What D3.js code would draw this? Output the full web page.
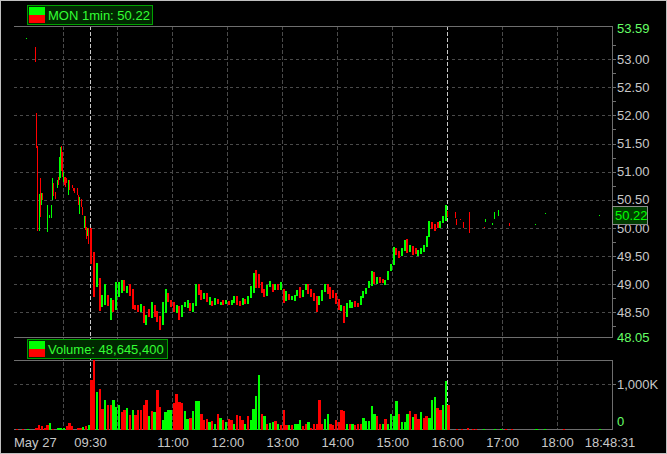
<!DOCTYPE html>
<html><head><meta charset="utf-8">
<script src="https://cdn.jsdelivr.net/npm/d3@7"></script>
<style>
html,body{margin:0;padding:0;background:#000;}
svg{display:block;font-family:"Liberation Sans",Arial,sans-serif;}
</style></head><body>
<svg id="chart" width="667" height="454"></svg>
<script>
// ---------------- DATA ----------------
const symbol = "MON 1min";
const lastPrice = 50.22;
const volumeTotal = 48645400;
const dateLabel = "May 27";
const lastTimeLabel = "18:48:31";
const dayStart = "08:07", dayEnd = "19:00";
const priceMin = 48.05, priceMax = 53.59;
const priceTicks = [48.5, 49, 49.5, 50, 50.5, 51, 51.5, 52, 52.5, 53];
const hourGrid = ["09:00","10:00","11:00","12:00","13:00","14:00","15:00","16:00","17:00","18:00"];
const hourLabels = ["09:30","11:00","12:00","13:00","14:00","15:00","16:00","17:00","18:00"];
const sessionMarks = ["09:30","16:00"];
const volMax = 1530, volTicks = [1000];

// pre-market 1-min bars [time, open, high, low, close]
const preBars = [
 ["08:20",53.35,53.37,53.35,53.37],["08:30",53.22,53.22,52.95,52.95],["08:31",52.05,52.05,51.42,51.45],
 ["08:32",51.45,51.45,49.93,49.97],["08:34",49.96,50.61,49.95,50.58],["08:35",50.85,50.88,50.19,50.25],
 ["08:37",50.40,50.62,50.40,50.60],["08:38",50.61,50.62,50.49,50.49],["08:43",49.93,50.40,49.92,50.38],
 ["08:45",50.16,50.22,50.16,50.22],["08:47",50.16,50.40,50.16,50.40],["08:48",50.49,50.64,50.49,50.64],
 ["08:49",50.52,50.88,50.52,50.88],["08:50",50.79,50.79,50.55,50.55],["08:52",50.64,50.64,50.52,50.52],
 ["08:54",50.70,50.85,50.70,50.85],["08:55",50.91,50.91,50.76,50.76],["08:56",50.85,51.26,50.85,51.26],
 ["08:57",50.88,51.44,50.88,51.40],["08:58",51.45,51.45,51.00,51.00],["08:59",51.35,51.35,50.91,50.91],
 ["09:00",50.82,51.00,50.82,51.00],["09:02",50.91,50.91,50.76,50.76],["09:03",50.91,50.91,50.73,50.73],
 ["09:04",50.88,50.88,50.79,50.79],["09:06",50.58,50.85,50.58,50.85],["09:07",50.85,50.85,50.67,50.67],
 ["09:10",50.76,50.76,50.70,50.70],["09:11",50.70,50.70,50.64,50.64],["09:12",50.70,50.70,50.61,50.61],
 ["09:16",50.70,50.70,50.58,50.58],["09:17",50.58,50.58,50.40,50.40],["09:18",50.25,50.55,50.25,50.55],
 ["09:20",50.52,50.52,50.37,50.37],["09:21",50.37,50.37,50.22,50.22],["09:23",49.99,50.21,49.99,50.21],
 ["09:24",50.21,50.21,49.99,49.99],["09:25",50.10,50.10,49.96,49.96],["09:26",50.02,50.02,49.81,49.81],
 ["09:27",49.84,49.99,49.84,49.99],["09:28",49.99,49.99,49.70,49.70]
];

// regular session, 3-min bars from 09:30 [time, open, high, low, close]
const sessionBars = [
 ["09:30",49.95,49.99,49.35,49.40],["09:33",49.45,49.57,48.77,48.95],["09:36",48.98,49.37,48.95,49.30],
 ["09:39",49.07,49.10,48.51,48.60],["09:42",48.62,48.80,48.58,48.77],["09:45",48.65,49.00,48.62,48.98],
 ["09:48",48.77,48.80,48.60,48.60],["09:51",48.38,48.75,48.36,48.72],["09:54",48.71,48.72,48.51,48.51],
 ["09:57",48.57,49.04,48.55,49.00],["10:00",48.80,49.04,48.78,49.04],["10:03",48.84,49.07,48.83,49.05],
 ["10:06",49.07,49.08,48.88,48.90],["10:09",48.83,48.96,48.83,48.95],["10:12",49.00,49.01,48.80,48.80],
 ["10:15",48.90,48.91,48.56,48.60],["10:18",48.62,48.63,48.54,48.54],["10:21",48.62,48.63,48.51,48.51],
 ["10:24",48.51,48.65,48.50,48.65],["10:27",48.60,48.61,48.30,48.30],["10:30",48.30,48.45,48.27,48.45],
 ["10:33",48.54,48.55,48.40,48.40],["10:36",48.40,48.68,48.39,48.68],["10:39",48.62,48.63,48.42,48.42],
 ["10:42",48.51,48.52,48.33,48.33],["10:45",48.42,48.43,48.18,48.20],["10:48",48.27,48.68,48.27,48.68],
 ["10:51",48.51,48.92,48.50,48.92],["10:54",48.83,48.84,48.68,48.68],["10:57",48.71,48.72,48.60,48.60],
 ["11:00",48.68,48.69,48.51,48.51],["11:03",48.48,48.62,48.47,48.62],["11:06",48.60,48.61,48.36,48.36],
 ["11:09",48.42,48.62,48.41,48.62],["11:12",48.60,48.68,48.59,48.68],["11:15",48.57,48.71,48.56,48.71],
 ["11:18",48.65,48.66,48.51,48.55],["11:21",48.51,48.66,48.50,48.62],["11:24",48.62,49.00,48.61,48.97],
 ["11:27",48.99,49.00,48.80,48.84],["11:30",48.87,48.90,48.72,48.76],["11:33",48.74,48.84,48.73,48.83],
 ["11:36",48.83,48.84,48.68,48.70],["11:39",48.65,48.77,48.63,48.76],["11:42",48.69,48.70,48.61,48.62],
 ["11:45",48.63,48.75,48.62,48.74],["11:48",48.72,48.73,48.64,48.65],["11:51",48.64,48.69,48.63,48.68],
 ["11:54",48.71,48.72,48.63,48.64],["11:57",48.64,48.71,48.63,48.70],["12:00",48.69,48.70,48.63,48.64],
 ["12:03",48.64,48.72,48.63,48.71],["12:06",48.67,48.78,48.66,48.77],["12:09",48.78,48.79,48.63,48.64],
 ["12:12",48.69,48.70,48.61,48.62],["12:15",48.63,48.75,48.62,48.74],["12:18",48.72,48.73,48.64,48.65],
 ["12:21",48.66,48.79,48.64,48.78],["12:24",48.75,48.96,48.74,48.95],["12:27",48.85,49.20,48.84,49.18],
 ["12:30",49.24,49.25,48.93,48.95],["12:33",49.17,49.18,48.93,48.95],["12:36",49.02,49.03,48.84,48.86],
 ["12:39",48.90,48.91,48.76,48.77],["12:42",48.80,48.99,48.79,48.98],["12:45",48.96,49.06,48.95,49.05],
 ["12:48",49.00,49.01,48.87,48.88],["12:51",48.90,49.00,48.89,48.99],["12:54",48.99,49.00,48.90,48.91],
 ["12:57",48.90,49.03,48.89,49.02],["13:00",48.90,48.91,48.66,48.68],["13:03",48.72,48.88,48.71,48.87],
 ["13:06",48.81,48.82,48.71,48.72],["13:09",48.72,48.78,48.71,48.78],["13:12",48.72,48.81,48.71,48.81],
 ["13:15",48.81,48.90,48.80,48.90],["13:18",48.93,48.94,48.75,48.76],["13:21",48.78,48.90,48.77,48.90],
 ["13:24",48.90,49.00,48.89,49.00],["13:27",48.99,49.00,48.83,48.84],["13:30",48.90,48.91,48.77,48.78],
 ["13:33",48.84,48.85,48.71,48.72],["13:36",48.78,48.79,48.51,48.53],["13:39",48.63,48.78,48.62,48.78],
 ["13:42",48.72,48.90,48.71,48.90],["13:45",48.87,49.00,48.86,48.99],["13:48",49.00,49.01,48.83,48.84],
 ["13:51",48.93,48.94,48.72,48.73],["13:54",48.88,48.89,48.74,48.75],["13:57",48.84,48.85,48.66,48.67],
 ["14:00",48.72,48.73,48.54,48.55],["14:03",48.54,48.63,48.53,48.63],["14:06",48.60,48.61,48.30,48.42],
 ["14:09",48.42,48.66,48.41,48.66],["14:12",48.58,48.72,48.57,48.72],["14:15",48.60,48.69,48.59,48.69],
 ["14:18",48.69,48.70,48.60,48.61],["14:21",48.66,48.67,48.60,48.61],["14:24",48.63,48.78,48.62,48.78],
 ["14:27",48.75,48.87,48.74,48.87],["14:30",48.84,48.93,48.83,48.93],["14:33",48.93,49.05,48.92,49.05],
 ["14:36",48.99,49.24,48.98,49.22],["14:39",49.20,49.21,48.99,49.00],["14:42",49.00,49.12,48.99,49.12],
 ["14:45",49.11,49.12,49.02,49.02],["14:48",49.08,49.09,49.02,49.02],["14:51",49.00,49.08,48.99,49.08],
 ["14:54",49.08,49.23,49.07,49.23],["14:57",49.23,49.35,49.22,49.35],["15:00",49.35,49.66,49.34,49.66],
 ["15:03",49.64,49.65,49.52,49.52],["15:06",49.58,49.59,49.46,49.46],["15:09",49.50,49.64,49.49,49.64],
 ["15:12",49.61,49.79,49.60,49.79],["15:15",49.79,49.80,49.55,49.55],["15:18",49.58,49.70,49.57,49.70],
 ["15:21",49.67,49.68,49.52,49.52],["15:24",49.64,49.65,49.55,49.55],["15:27",49.52,49.61,49.51,49.61],
 ["15:30",49.55,49.64,49.54,49.64],["15:33",49.58,49.70,49.57,49.70],["15:36",49.67,49.85,49.66,49.85],
 ["15:39",49.85,50.12,49.84,50.12],["15:42",50.09,50.10,49.97,49.97],["15:45",50.06,50.07,49.94,49.94],
 ["15:48",50.09,50.10,50.00,50.00],["15:51",50.00,50.12,49.99,50.12],["15:54",50.09,50.21,50.08,50.21],
 ["15:57",50.12,50.40,50.11,50.38]
];

// after-hours 1-min bars [time, open, high, low, close]
const postBars = [
 ["16:00",50.29,50.30,50.20,50.20],["16:09",50.29,50.29,50.19,50.19],["16:10",50.15,50.15,50.05,50.05],
 ["16:14",50.16,50.16,50.15,50.15],["16:17",50.11,50.11,50.00,50.00],["16:24",50.29,50.29,49.92,49.92],
 ["16:40",50.01,50.01,49.99,49.99],["16:41",50.10,50.16,50.10,50.16],["16:49",50.05,50.09,50.05,50.09],
 ["16:51",50.15,50.28,50.15,50.28],["16:55",50.21,50.32,50.21,50.32],["17:08",50.09,50.09,50.03,50.03],
 ["17:36",50.05,50.06,50.05,50.06],["17:47",50.25,50.26,50.25,50.26],["18:46",50.22,50.23,50.22,50.23]
];

// volume (thousands of shares), 3-min bars
const volPreTimes = ["08:09","08:15","08:21","08:30","08:33","08:36","08:39","08:42","08:45","08:48","08:54","08:57","09:00","09:03","09:06","09:09","09:15","09:18","09:21","09:24","09:27"];
const volPre      = [15,20,5,30,90,67,30,110,133,20,30,30,30,67,133,67,30,30,52,67,90];
const volPreDir   = "RRGRRRRRGRGGGRRRRRGRG";
const volSession = [
 1090,1600,830,900,460,660,530,530,640,500,530,380,420,480,330,420,330,420,420,530,
 640,290,410,380,880,500,200,390,440,440,590,790,610,580,410,240,260,410,620,620,
 333,200,237,163,185,126,348,259,200,163,237,200,111,311,289,200,111,289,200,445,
 733,1200,333,304,126,141,156,178,126,104,422,89,89,89,126,126,200,67,126,156,
 37,111,111,645,111,222,333,111,89,200,156,422,400,126,111,126,89,111,126,244,
 178,178,526,348,289,111,111,237,126,348,304,622,333,163,163,348,400,274,333,222,
 378,259,296,252,645,719,482,437,534,1067,534
];
const volSessionDir = "RRGRRGRRGGGRRGRGRRRRRGRGRRGGGGRRRRGGRGGGRRRGRGRGRGRRGRRRGRGGGGRGRGGRGRRRGRGGGRRGRRRRRGGRRRRRRGRGRRRGGGGGRRGRGGGGRGGGRGRRGRRGGGRRGGR";
const volPostTimes = ["16:09","16:15","16:21","16:27","16:30","16:39","16:51","16:57","17:03","17:09","17:36","17:45","18:06","18:45"];
const volPost      = [22,22,30,22,22,22,22,22,22,22,22,22,22,22];
const volPostDir   = "RRRRRGGGRRGGRG";

// ---------------- DRAW ----------------
const UP = "#00ff00", DN = "#ff0000";
const tmin = s => { const p = s.split(":").map(Number); return p[0]*60 + p[1] + (p[2]||0)/60; };
const plotL = 14, plotR = 612;
const priceTop = 26, priceBot = 337.5, volTop = 360, volBot = 429.5;

const svg = d3.select("#chart");
svg.append("rect").attr("width",667).attr("height",454).attr("fill","#000");

const x = d3.scaleLinear().domain([tmin(dayStart), tmin(dayEnd)]).range([plotL, plotR]);
const y = d3.scaleLinear().domain([priceMin, priceMax]).range([priceBot, priceTop]);
const v = d3.scaleLinear().domain([0, volMax]).range([volBot, volTop]);

const grid = svg.append("g").attr("shape-rendering","crispEdges");
grid.selectAll("line.hp").data(priceTicks).join("line")
  .attr("x1",plotL).attr("x2",plotR).attr("y1",d=>Math.round(y(d))+0.5).attr("y2",d=>Math.round(y(d))+0.5)
  .attr("stroke","#4a4a4a").attr("stroke-dasharray","3,3");
grid.selectAll("line.hv").data(volTicks).join("line")
  .attr("x1",plotL).attr("x2",plotR).attr("y1",d=>Math.round(v(d))+0.5).attr("y2",d=>Math.round(v(d))+0.5)
  .attr("stroke","#4a4a4a").attr("stroke-dasharray","3,3");
grid.selectAll("line.vg").data(hourGrid.filter(h=>!sessionMarks.includes(h))).join("line")
  .attr("x1",d=>Math.round(x(tmin(d)))+0.5).attr("x2",d=>Math.round(x(tmin(d)))+0.5)
  .attr("y1",priceTop).attr("y2",volBot)
  .attr("stroke","#4a4a4a").attr("stroke-dasharray","4,2");
grid.selectAll("line.sm").data(sessionMarks).join("line")
  .attr("x1",d=>Math.round(x(tmin(d)))+0.5).attr("x2",d=>Math.round(x(tmin(d)))+0.5)
  .attr("y1",priceTop).attr("y2",volBot)
  .attr("stroke","#c8c8c8").attr("stroke-dasharray","4,2");
[priceTop, priceBot, volTop, volBot].forEach(yy=>{
  grid.append("line").attr("x1",plotL).attr("x2",plotR).attr("y1",Math.floor(yy)+0.5).attr("y2",Math.floor(yy)+0.5).attr("stroke","#6e6e6e");
});

// candles
const bars = svg.append("g").attr("shape-rendering","crispEdges");
function drawCandles(data, w, off){
  bars.selectAll(null).data(data).join("rect")
    .attr("x", d => Math.round(x(tmin(d[0])) + off))
    .attr("width", w)
    .attr("y", d => Math.round(y(d[2])))
    .attr("height", d => Math.max(1, Math.round(y(d[3]) - y(d[2]))))
    .attr("fill", d => d[4] >= d[1] ? UP : DN);
}
drawCandles(preBars, 1, 0);
drawCandles(sessionBars, 2, 0.4);
drawCandles(postBars, 1, 0);

// volume
const sessionVol = volSession.map((val,i)=>({t: tmin("09:30") + 3*i, val, up: volSessionDir[i]==="G"}));
const preVol = volPre.map((val,i)=>({t: tmin(volPreTimes[i]), val, up: volPreDir[i]==="G"}));
const postVol = volPost.map((val,i)=>({t: tmin(volPostTimes[i]), val, up: volPostDir[i]==="G"}));
const vg = svg.append("g").attr("shape-rendering","crispEdges");
vg.selectAll("rect").data(preVol.concat(sessionVol, postVol)).join("rect")
  .attr("x", d => x(d.t) + 0.3).attr("width", 2.3)
  .attr("y", d => v(Math.min(d.val, volMax)))
  .attr("height", d => Math.max(1, v(0) - v(Math.min(d.val, volMax))))
  .attr("fill", d => d.up ? UP : DN);

// right axes
const axisG = svg.append("g").attr("transform",`translate(${plotR},0)`);
const yAxis = d3.axisRight(y).tickValues(priceTicks).tickSize(4).tickPadding(1).tickFormat(d3.format(".2f"));
axisG.append("g").call(yAxis);
const minor = d3.range(48.25, 53.5, 0.5);
axisG.append("g").call(d3.axisRight(y).tickValues(minor).tickSize(4).tickFormat(""));
axisG.append("g").call(d3.axisRight(v).tickValues(volTicks).tickSize(4).tickPadding(1).tickFormat(d=>d3.format(",")(d)+"K"));
axisG.selectAll("path.domain").remove();
axisG.append("line").attr("x1",0.5).attr("x2",0.5).attr("y1",priceTop).attr("y2",priceBot+0.5).attr("stroke","#6e6e6e");
axisG.append("line").attr("x1",0.5).attr("x2",0.5).attr("y1",volTop).attr("y2",volBot+0.5).attr("stroke","#6e6e6e");
axisG.selectAll(".tick line").attr("stroke","#6e6e6e").attr("shape-rendering","crispEdges");
axisG.selectAll(".tick text").attr("fill","#c8c8c8").attr("font-size",13).attr("font-family","Liberation Sans, Arial, sans-serif");
axisG.append("text").attr("x",5).attr("y",priceTop+2).attr("dy","0.35em").attr("fill","#66ff66").attr("font-size",13).text(priceMax.toFixed(2));
axisG.append("text").attr("x",5).attr("y",priceBot).attr("dy","0.35em").attr("fill","#66ff66").attr("font-size",13).text(priceMin.toFixed(2));
axisG.append("text").attr("x",5).attr("y",volBot-8).attr("dy","0.35em").attr("fill","#66ff66").attr("font-size",13).text("0");

// last price box
const ly = y(lastPrice);
axisG.append("rect").attr("x",0.5).attr("y",Math.round(ly-9.5)+0.5).attr("width",35).attr("height",18)
  .attr("fill","#003c00").attr("stroke","#8c8c8c").attr("shape-rendering","crispEdges");
axisG.append("text").attr("x",3).attr("y",ly).attr("dy","0.34em").attr("fill",UP).attr("font-size",13).text(lastPrice.toFixed(2));

// bottom time axis
const xAxis = d3.axisBottom(x).tickValues(hourLabels.map(tmin)).tickSize(0).tickPadding(0)
  .tickFormat((d,i)=>hourLabels[i]);
const xg = svg.append("g").attr("transform",`translate(0,${volBot})`).call(xAxis);
xg.select("path.domain").remove();
xg.selectAll(".tick text").attr("fill","#c8c8c8").attr("font-size",13).attr("y",17.5).attr("dy",0)
  .attr("font-family","Liberation Sans, Arial, sans-serif");
svg.append("text").attr("x",plotL).attr("y",447).attr("fill","#c8c8c8").attr("font-size",13).text(dateLabel);
svg.append("text").attr("x",plotR-2).attr("y",447).attr("text-anchor","middle").attr("fill","#c8c8c8").attr("font-size",13).text(lastTimeLabel);

// legends
function legend(yTop, w, label){
  const g = svg.append("g").attr("shape-rendering","crispEdges");
  g.append("rect").attr("x",27.5).attr("y",yTop+0.5).attr("width",w).attr("height",19).attr("fill","#002800").attr("stroke","#00a000");
  g.append("rect").attr("x",29).attr("y",yTop+2).attr("width",16).attr("height",8).attr("fill",UP);
  g.append("rect").attr("x",29).attr("y",yTop+10).attr("width",16).attr("height",8).attr("fill",DN);
  svg.append("text").attr("x",48).attr("y",yTop+15).attr("fill","#33ff33").attr("font-size",13).text(label);
}
legend(5, 125, `${symbol}: ${lastPrice.toFixed(2)}`);
legend(339, 140, `Volume: ${d3.format(",")(volumeTotal)}`);

// outer frame
svg.append("rect").attr("x",0.5).attr("y",0.5).attr("width",666).attr("height",453).attr("fill","none").attr("stroke","#c0c0c0").attr("shape-rendering","crispEdges");
</script>
</body></html>
